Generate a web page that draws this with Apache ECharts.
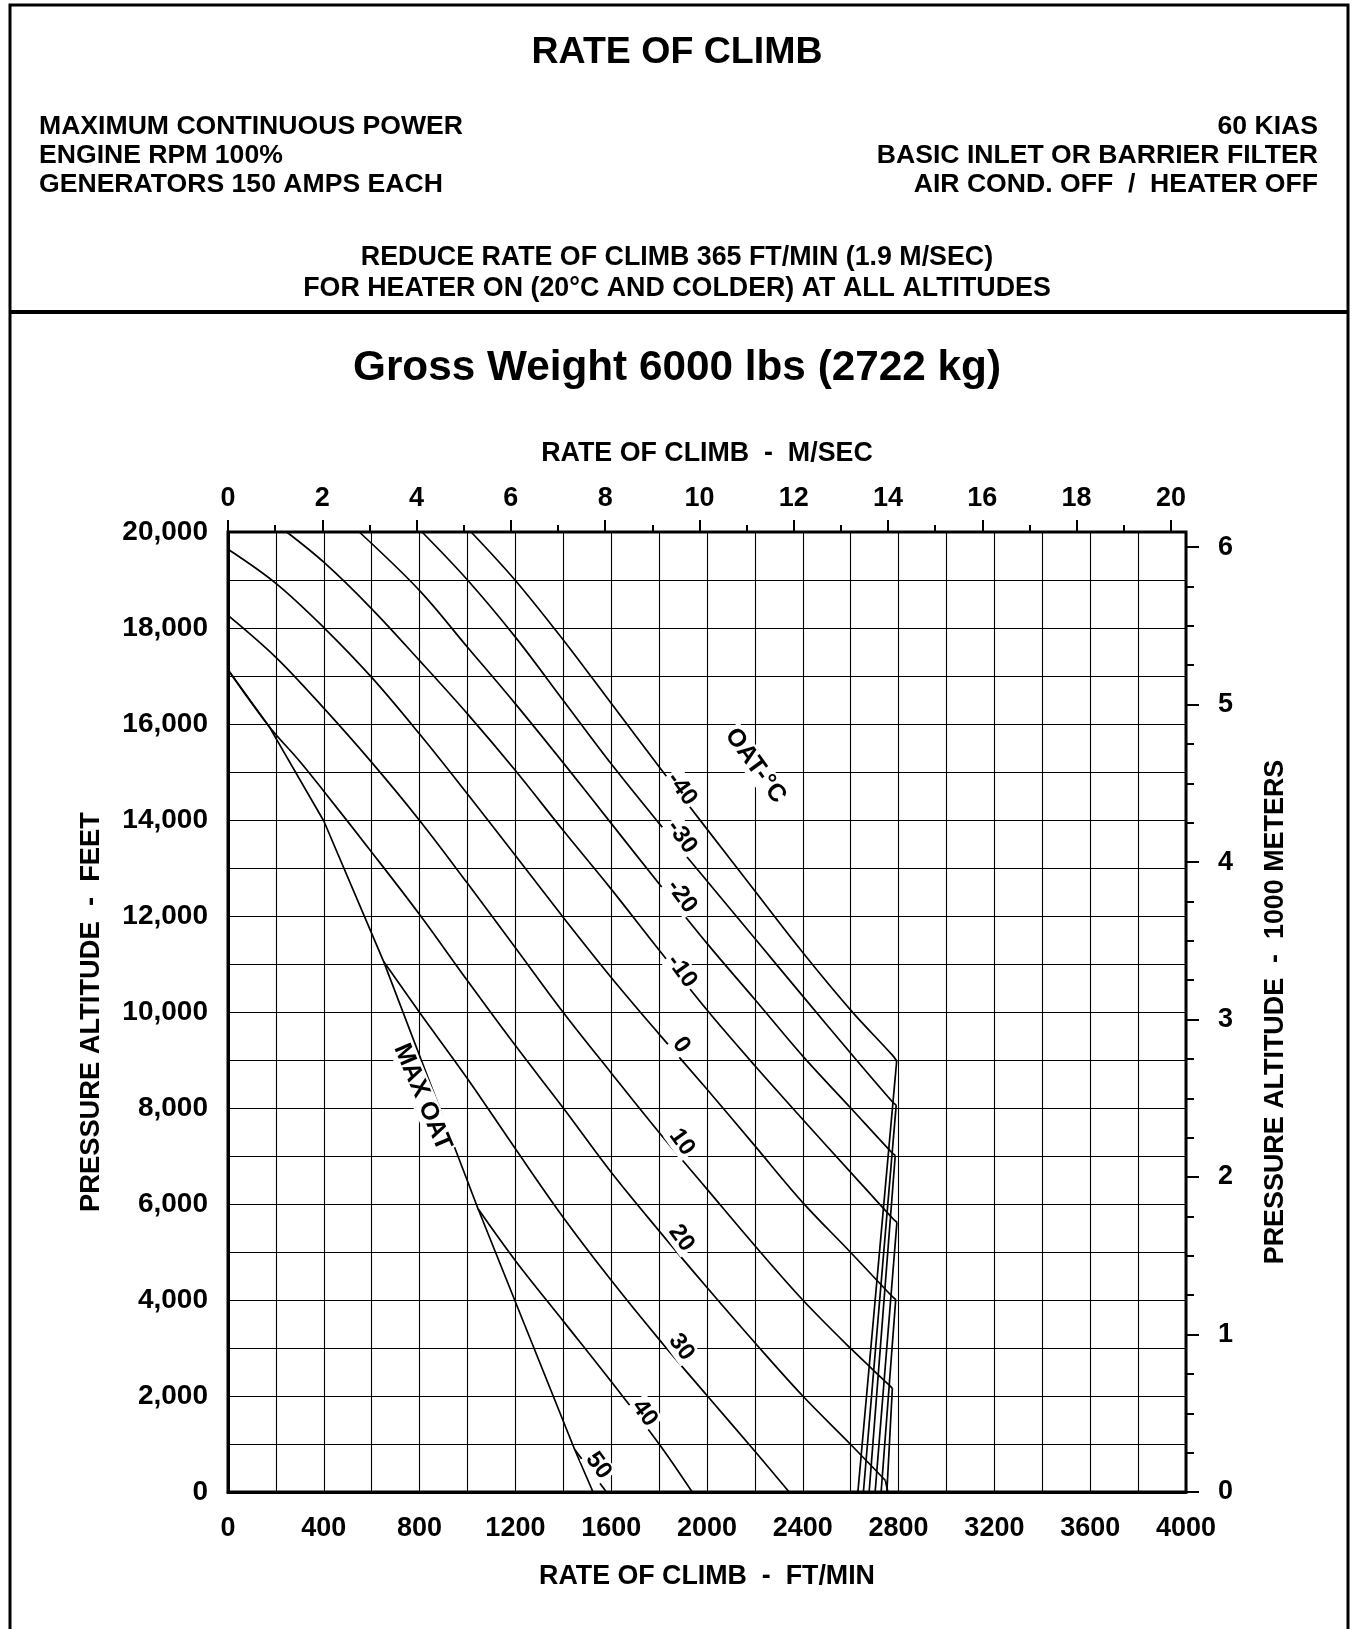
<!DOCTYPE html>
<html>
<head>
<meta charset="utf-8">
<title>Rate of Climb</title>
<script src="https://cdn.jsdelivr.net/npm/echarts@6/dist/echarts.min.js"></script>
<style>
  html, body { margin: 0; padding: 0; background: #fff; }
  #chart { width: 1354px; height: 1629px; }
</style>
</head>
<body>
<div id="chart"></div>
<script>
// ---- Axis tick labels ----
const ftMinTicks = [0, 400, 800, 1200, 1600, 2000, 2400, 2800, 3200, 3600, 4000];
const altFtTicks = [0, 2000, 4000, 6000, 8000, 10000, 12000, 14000, 16000, 18000, 20000];
const mPerSecTicks = [0, 2, 4, 6, 8, 10, 12, 14, 16, 18, 20];
const kmTicks = [0, 1, 2, 3, 4, 5, 6];

// ---- OAT curves: [rate of climb ft/min, pressure altitude ft] ----
const oatMinus40 = [[1015,20000],[1200,18990],[1400,17750],[1600,16430],[1800,15110],[2000,13810],[2200,12520],[2400,11240],[2600,10040],[2775,9095],[2792,8980],[2630,0]];
const oatMinus30 = [[810,20000],[1000,19000],[1200,17810],[1400,16490],[1600,15170],[1800,13930],[2000,12730],[2200,11530],[2400,10330],[2600,9140],[2772,8140],[2790,8060],[2653,0]];
const oatMinus20 = [[548,20000],[800,18780],[1000,17600],[1200,16420],[1400,15190],[1600,13930],[1800,12670],[2000,11430],[2200,10260],[2400,9080],[2600,8000],[2768,7090],[2786,7010],[2677,0]];
const oatMinus10 = [[245,20000],[400,19370],[600,18400],[800,17320],[1000,16210],[1200,15030],[1400,13780],[1600,12560],[1800,11290],[2000,10040],[2200,8880],[2400,7760],[2600,6660],[2775,5700],[2793,5620],[2702,0]];
const oatZero    = [[0,19640],[200,18930],[400,18010],[600,16970],[800,15790],[1000,14540],[1200,13260],[1400,11970],[1600,10720],[1800,9540],[2000,8390],[2200,7210],[2400,6030],[2600,4990],[2772,4080],[2788,4010],[2727,0]];
const oatPlus10  = [[0,18265],[200,17390],[400,16330],[600,15200],[800,13990],[1000,12680],[1200,11340],[1400,9990],[1600,8730],[1800,7490],[2000,6310],[2200,5130],[2400,4000],[2600,2990],[2760,2230],[2774,2160],[2751,0]];
const oatPlus20  = [[0,17130],[170,15960],[300,15220],[400,14600],[600,13330],[800,12030],[1000,10650],[1200,9300],[1400,8000],[1600,6660],[1800,5440],[2000,4260],[2200,3110],[2400,2000],[2600,990],[2745,240],[2755,0]];
const oatPlus30  = [[650,11050],[800,9990],[1000,8610],[1200,7150],[1400,5720],[1600,4410],[1800,3180],[2000,2010],[2200,850],[2343,0]];
const oatPlus40  = [[1044,5900],[1200,4820],[1400,3560],[1600,2300],[1800,1000],[1938,0]];
const oatPlus50  = [[1447,890],[1580,0]];
const maxOat     = [[0,17130],[170,15960],[400,13980],[650,11050],[1044,5900],[1447,890],[1524,0]];

// curves that turn down the torque-limit leg at their last vertex pair
const kinkedCurves = [oatMinus40, oatMinus30, oatMinus20, oatMinus10, oatZero, oatPlus10, oatPlus20];
const plainCurves  = [oatPlus30, oatPlus40, oatPlus50];
const boundaryCurves = [maxOat];

// ---- Curve captions: text and anchor [ft/min, ft] ----
const captionTexts  = ['-40', '-30', '-20', '-10', '0', '10', '20', '30', '40', '50', 'OAT-°C', 'MAX OAT'];
const captionAnchor = [[1895,14650],[1895,13650],[1895,12410],[1895,10850],[1893,9310],[1895,7290],[1893,5290],[1893,3020],[1740,1645],[1547,550],[2202,15130],[812,8225]];

// ---- Layout ----
const FONT = '"Liberation Sans", Arial, Helvetica, sans-serif';
const PLOT = { left: 228, top: 532, width: 958, height: 960 };
const FT_PER_MS = 196.850394;
const FT_PER_KM = 3280.8399;
const msSpan = (20 * FT_PER_MS) / 4000 * PLOT.width;          // 0..20 m/s across the ft/min scale
const kmSpan = (6 * FT_PER_KM) / 20000 * PLOT.height;          // 0..6 km against the feet scale

const tickFont = { fontSize: 27, fontWeight: 'bold', color: '#000', fontFamily: FONT };
const curveStyle = { color: '#000', width: 1.7 };

function curveSeries(pts, smooth) {
  return {
    type: 'line', xAxisIndex: 0, yAxisIndex: 0, data: pts,
    symbol: 'none', smooth: smooth,
    silent: true, z: 3, lineStyle: curveStyle, animation: false
  };
}

const lineSeries = [];
kinkedCurves.forEach(pts => {
  const n = pts.length;
  lineSeries.push(curveSeries(pts.slice(0, n - 1), 0.35));  // OAT line up to the corner
  lineSeries.push(curveSeries(pts.slice(n - 2), false));    // leg down to sea level
});
plainCurves.forEach(pts => lineSeries.push(curveSeries(pts, pts.length > 2 ? 0.35 : false)));
boundaryCurves.forEach(pts => lineSeries.push(curveSeries(pts, false)));

function headerText(text, x, y, size, align) {
  return {
    type: 'text', x: x, y: y, z: 20,
    style: {
      text: text, fill: '#000', fontSize: size, fontWeight: 'bold', fontFamily: FONT,
      align: align || 'center', verticalAlign: 'middle'
    }
  };
}

const pageGraphics = [
  { type: 'polyline', z: 20, shape: { points: [[10, 1629], [10, 5], [1348, 5], [1348, 1629]] },
    style: { fill: 'none', stroke: '#000', lineWidth: 3 } },
  { type: 'line', z: 20, shape: { x1: 10, y1: 312, x2: 1348, y2: 312 },
    style: { stroke: '#000', lineWidth: 4 } },
  headerText('RATE OF CLIMB', 677, 53, 37.5),
  headerText('MAXIMUM CONTINUOUS POWER', 39, 127, 26.6, 'left'),
  headerText('ENGINE RPM 100%', 39, 156, 26.6, 'left'),
  headerText('GENERATORS 150 AMPS EACH', 39, 185, 26.6, 'left'),
  headerText('60 KIAS', 1318, 127, 26.6, 'right'),
  headerText('BASIC INLET OR BARRIER FILTER', 1318, 156, 26.6, 'right'),
  headerText('AIR COND. OFF  /  HEATER OFF', 1318, 185, 26.6, 'right'),
  headerText('REDUCE RATE OF CLIMB 365 FT/MIN (1.9 M/SEC)', 677, 258, 26.8),
  headerText('FOR HEATER ON (20°C AND COLDER) AT ALL ALTITUDES', 677, 289, 26.8),
  headerText('Gross Weight 6000 lbs (2722 kg)', 677, 368, 42.3),
  headerText('RATE OF CLIMB  -  M/SEC', 707, 454, 26.8),
  headerText('RATE OF CLIMB  -  FT/MIN', 707, 1577, 26.8),
  Object.assign(headerText('PRESSURE ALTITUDE  -  FEET', 91, 1012, 27.3), { rotation: Math.PI / 2 }),
  Object.assign(headerText('PRESSURE ALTITUDE  -  1000 METERS', 1276, 1012, 26.9), { rotation: Math.PI / 2 })
];

const option = {
  backgroundColor: '#fff',
  animation: false,
  grid: [
    { left: PLOT.left, top: PLOT.top, width: PLOT.width, height: PLOT.height,
      show: true, borderColor: '#000', borderWidth: 3, backgroundColor: 'transparent' },
    { left: PLOT.left, top: PLOT.top, width: msSpan, height: PLOT.height },
    { left: PLOT.left, top: PLOT.top + PLOT.height - kmSpan, width: PLOT.width, height: kmSpan }
  ],
  xAxis: [
    { gridIndex: 0, type: 'value', position: 'bottom', min: 0, max: 4000, interval: 200,
      axisLine: { show: true, onZero: false, lineStyle: { color: '#000', width: 3 } },
      axisTick: { show: false },
      splitLine: { show: true, lineStyle: { color: '#000', width: 1.1 } },
      axisLabel: Object.assign({ margin: 23,
        formatter: v => ftMinTicks.includes(v) ? String(v) : '' }, tickFont) },
    { gridIndex: 1, type: 'value', position: 'top', min: 0, max: 20, interval: 2,
      axisLine: { show: false, onZero: false },
      axisTick: { show: true, length: 12, lineStyle: { color: '#000', width: 2 } },
      minorTick: { show: true, splitNumber: 2, length: 7, lineStyle: { color: '#000', width: 2 } },
      splitLine: { show: false },
      axisLabel: Object.assign({ margin: 20,
        formatter: v => mPerSecTicks.includes(v) ? String(v) : '' }, tickFont) },
    { gridIndex: 2, type: 'value', show: false, min: 0, max: 4000, axisLine: { onZero: false } }
  ],
  yAxis: [
    { gridIndex: 0, type: 'value', position: 'left', min: 0, max: 20000, interval: 1000,
      axisLine: { show: true, onZero: false, lineStyle: { color: '#000', width: 3 } },
      axisTick: { show: false },
      splitLine: { show: true, lineStyle: { color: '#000', width: 1.1 } },
      axisLabel: Object.assign({}, tickFont, { margin: 20, fontSize: 28,
        formatter: v => altFtTicks.includes(v) ? v.toLocaleString('en-US') : '' }) },
    { gridIndex: 2, type: 'value', position: 'right', min: 0, max: 6, interval: 1,
      axisLine: { show: false, onZero: false },
      axisTick: { show: true, length: 13, lineStyle: { color: '#000', width: 2 } },
      minorTick: { show: true, splitNumber: 4, length: 8, lineStyle: { color: '#000', width: 2 } },
      splitLine: { show: false },
      axisLabel: Object.assign({ margin: 32,
        formatter: v => kmTicks.includes(v) ? String(v) : '' }, tickFont) },
    { gridIndex: 1, type: 'value', show: false, min: 0, max: 20000, axisLine: { onZero: false } }
  ],
  series: lineSeries,
  graphic: pageGraphics
};

const chart = echarts.init(document.getElementById('chart'), null, { renderer: 'canvas', width: 1354, height: 1629 });
chart.setOption(option);

// Curve captions, placed through the plot's own scales
const captionGraphics = captionTexts.map((t, i) => {
  const p = chart.convertToPixel({ gridIndex: 0 }, captionAnchor[i]);
  const deg = t === 'MAX OAT' ? -67 : -54;
  return {
    type: 'text', x: p[0], y: p[1], z: 30,
    rotation: deg * Math.PI / 180,
    style: {
      text: t, fill: '#000', fontSize: t.length > 3 ? 25 : 24, fontWeight: 'bold', fontFamily: FONT,
      align: 'center', verticalAlign: 'middle',
      backgroundColor: '#fff', padding: [0, 2, 0, 2]
    }
  };
});
chart.setOption({ graphic: pageGraphics.concat(captionGraphics) });
</script>
</body>
</html>
